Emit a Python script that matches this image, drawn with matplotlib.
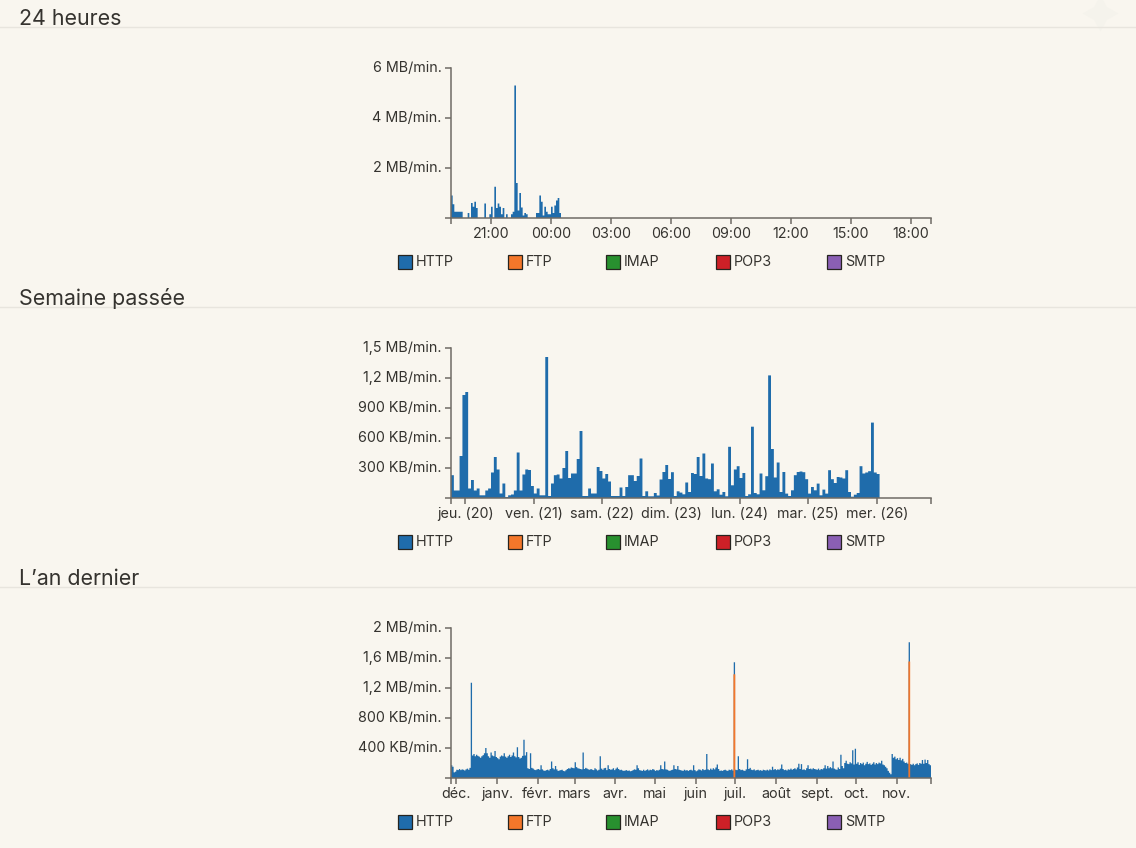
import matplotlib
matplotlib.use("Agg")
import matplotlib.pyplot as plt
from matplotlib.patches import Rectangle
from matplotlib.transforms import ScaledTranslation
import numpy as np

W, H = 1136, 848
BG = "#f9f6ef"
INK = "#35332f"
AXIS = "#6f6b65"
BLUE = "#1f6cab"
ORANGE = "#f4772a"

plt.rcParams["font.family"] = ["Inter", "DejaVu Sans"]

section_titles = ["24 heures", "Semaine passée", "L’an dernier"]
protocols = ["HTTP", "FTP", "IMAP", "POP3", "SMTP"]
protocol_colors = [BLUE, ORANGE, "#28902f", "#cd2027", "#8a5fb4"]

# 24 hours, 5 minute bins, MB/min
day_http = [0.9, 0.55, 0.25, 0.25, 0.25, 0.25, 0.25, 0, 0, 0,
            0.2, 0, 0.6, 0.45, 0.65, 0.4, 0, 0, 0, 0,
            0.58, 0, 0, 0.15, 0.45, 0, 1.25, 0.4, 0.58, 0.45,
            0.15, 0.4, 0, 0.15, 0, 0, 0.15, 0.25, 5.3, 1.4,
            0.3, 1.0, 0.42, 0.1, 0.2, 0.15, 0, 0, 0, 0,
            0, 0.2, 0.2, 0.9, 0.65, 0.1, 0.45, 0.25, 0.15, 0.15,
            0.45, 0.2, 0.5, 0.7, 0.8, 0.2]
day_ticks = [2, 5, 8, 11, 14, 17, 20, 23]
day_labels = ["21:00", "00:00", "03:00", "06:00", "09:00", "12:00", "15:00", "18:00"]
day_yticks = [0, 2, 4, 6]
day_ylabels = ["", "2 MB/min.", "4 MB/min.", "6 MB/min."]

# last week, 1 hour bins, KB/min
week_http = [228, 75, 75, 420, 1030, 1060, 95, 180, 75, 95,
             27, 27, 75, 95, 255, 410, 285, 45, 145, 10,
             27, 35, 75, 455, 75, 235, 285, 280, 120, 45,
             95, 27, 27, 1410, 20, 145, 228, 235, 195, 300,
             470, 200, 245, 245, 390, 670, 20, 20, 95, 45,
             45, 310, 270, 195, 240, 165, 20, 20, 20, 105,
             20, 110, 228, 228, 170, 220, 395,
             20, 67, 17, 17, 50, 25, 185, 260, 330, 190,
             258, 20, 67, 54, 37, 155, 60, 250, 240, 410,
             220, 445, 195, 188, 345, 67, 87, 33, 60, 17,
             512, 127, 285, 318, 200, 250, 20, 37, 713, 50,
             37, 245, 77, 218, 1226, 490, 205, 355, 60, 260,
             44, 20, 77, 228, 260, 265, 258, 188, 44, 110,
             77, 144, 27, 84, 44, 278, 188, 150, 210, 205,
             195, 278, 60, 13, 33, 50, 318, 245, 255, 268,
             754, 255, 240]
week_ticks = [5, 29, 53, 77, 101, 125, 149]
week_labels = ["jeu. (20)", "ven. (21)", "sam. (22)", "dim. (23)", "lun. (24)", "mar. (25)", "mer. (26)"]
week_yticks = [0, 300, 600, 900, 1200, 1500]
week_ylabels = ["", "300 KB/min.", "600 KB/min.", "900 KB/min.", "1,2 MB/min.", "1,5 MB/min."]

# last year, 1 day bins, KB/min
year_http = [170, 150, 75, 85, 110, 105, 120, 105, 115, 110,
             100, 115, 125, 110, 135, 1270, 300, 320, 290, 310,
             295, 285, 270, 290, 305, 330, 400, 330, 290, 270,
             340, 300, 290, 360, 280, 265, 250, 285, 300, 290,
             330, 285, 270, 290, 310, 280, 300, 340, 290, 275,
             410, 280, 260, 270, 295, 510, 300, 345, 130, 120,
             330, 135, 125, 110, 105, 115, 120, 110, 170, 115,
             100, 95, 105, 110, 100, 120, 220, 130, 115, 160,
             115, 95, 100, 105, 110, 95, 90, 105, 120, 130,
             125, 140, 135, 130, 210, 145, 130, 125, 120, 115,
             340, 120, 135, 125, 115, 110, 120, 110, 105, 130,
             115, 100, 110, 290, 125, 110, 130, 135, 105, 170,
             120, 110, 115, 130, 105, 125, 140, 120, 105, 110,
             100, 95, 100, 105, 95, 100, 90, 95, 105, 115,
             110, 170, 130, 105, 100, 95, 110, 95, 105, 115,
             100, 110, 105, 120, 110, 95, 105, 100, 110, 170,
             120, 115, 220, 115, 110, 100, 95, 105, 110, 170,
             120, 115, 160, 110, 105, 100, 95, 110, 100, 105,
             95, 105, 110, 100, 170, 105, 90, 100, 115, 110,
             100, 120, 105, 110, 320, 115, 105, 125, 110, 130,
             115, 140, 180, 120, 95, 100, 95, 105, 110, 100,
             95, 110, 105, 115, 100, 163, 110, 105, 290, 120,
             105, 110, 100, 95, 115, 250, 120, 135, 110, 105,
             115, 100, 105, 110, 100, 105, 95, 110, 105, 100,
             110, 100, 115, 105, 150, 110, 120, 105, 115, 110,
             125, 180, 120, 105, 110, 100, 115, 110, 125, 110,
             120, 130, 115, 140, 190, 120, 185, 110, 115, 105,
             130, 170, 120, 125, 115, 130, 120, 115, 110, 125,
             105, 120, 115, 130, 170, 125, 160, 130, 145, 130,
             220, 125, 115, 110, 140, 120, 310, 160, 130, 200,
             230, 190, 185, 210, 195, 370, 180, 390, 190, 210,
             175, 200, 185, 205, 170, 190, 215, 185, 195, 175,
             190, 210, 180, 200, 185, 205, 195, 230, 180, 170,
             150, 130, 95, 70, 50, 320, 270, 285, 250, 265,
             240, 270, 235, 255, 220, 200, 205, 190, 260, 185,
             175, 190, 170, 185, 195, 175, 200, 190, 240, 190,
             245, 200, 240, 185, 170]
# the two FTP transfers of the year
year_ftp_days = [215, 348]
year_ftp_values = [1380, 1550]
year_ticks = [4, 35, 66, 94, 125, 155, 186, 216, 247, 278, 308, 339]
year_labels = ["déc.", "janv.", "févr.", "mars", "avr.", "mai", "juin", "juil.", "août", "sept.", "oct.", "nov."]
year_yticks = [0, 400, 800, 1200, 1600, 2000]
year_ylabels = ["", "400 KB/min.", "800 KB/min.", "1,2 MB/min.", "1,6 MB/min.", "2 MB/min."]

fig = plt.figure(figsize=(W / 100, H / 100), dpi=100, facecolor=BG)

# full figure overlay in pixel coords for headings, rules and legends
page = fig.add_axes([0, 0, 1, 1], zorder=0)
page.set_xlim(0, W)
page.set_ylim(H, 0)
page.axis("off")
page.plot([1100], [13], marker=(4, 1, 0), ms=26, color="#f5f3ec", mew=0)


def make_chart(top, width, http, xmax, xticks, xlabels, yticks, ylabels, ftp=None):
    ax = fig.add_axes([451 / W, 1 - (top + 150) / H, 480 / W, 150 / H], zorder=1)
    ax.patch.set_alpha(0)
    ax.set_xlim(0, xmax)
    ax.set_ylim(0, yticks[-1])
    http = np.asarray(http, dtype=float)
    edges = np.arange(len(http) + 1) * width
    total = http if ftp is None else http + ftp
    # one filled outline per chart, separate bars leave seams at this width
    ax.stairs(total, edges, fill=True, color=BLUE, lw=0.3, snap=False)
    if ftp is not None:
        spikes = ftp > 0
        bars = ax.bar(edges[:-1][spikes], ftp[spikes], width=width, align="edge",
                      color=ORANGE, edgecolor=ORANGE, lw=0.3)
        for bar in bars:
            bar.set_snap(False)

    ax.set_xticks([0] + xticks + [xmax], [""] + xlabels + [""])
    ax.set_yticks(yticks, ylabels)
    ax.tick_params(length=4.3, width=1.1, color=AXIS, labelcolor=INK, labelsize=10.3)
    ax.tick_params(axis="x", pad=2.5)
    ax.tick_params(axis="y", pad=2.5)
    nudge = ScaledTranslation(0, 1.5 / 100, fig.dpi_scale_trans)
    for label in ax.get_yticklabels():
        label.set_transform(label.get_transform() + nudge)
    for side in ["top", "right"]:
        ax.spines[side].set_visible(False)
    for side in ["left", "bottom"]:
        ax.spines[side].set_color(AXIS)
        ax.spines[side].set_linewidth(1.1)
    return ax


make_chart(68, 1 / 12, day_http, 24, day_ticks, day_labels, day_yticks, day_ylabels)
make_chart(348, 1, week_http, 168, week_ticks, week_labels, week_yticks, week_ylabels)
year_ftp = np.zeros(len(year_http))
year_ftp[year_ftp_days] = year_ftp_values
make_chart(628, 1, year_http, 365, year_ticks, year_labels, year_yticks, year_ylabels, ftp=year_ftp)

legend_x = [398, 508, 606, 716, 827]
for i, title in enumerate(section_titles):
    rule_y = 27 + 280 * i
    page.plot([0, W], [rule_y, rule_y], color="#e8e5de", lw=1)
    page.text(19, rule_y - 2, title, fontsize=15.4, color=INK, va="baseline", ha="left")
    legend_y = 255 + 280 * i
    for name, color, x in zip(protocols, protocol_colors, legend_x):
        page.add_patch(Rectangle((x, legend_y), 13.5, 13.5, fc=color, ec="#26241f", lw=0.9))
        page.text(x + 18, legend_y + 6, name, fontsize=10.3, color=INK, va="center_baseline", ha="left")

fig.savefig("out.png", dpi=100, facecolor=BG)
plt.close(fig)
